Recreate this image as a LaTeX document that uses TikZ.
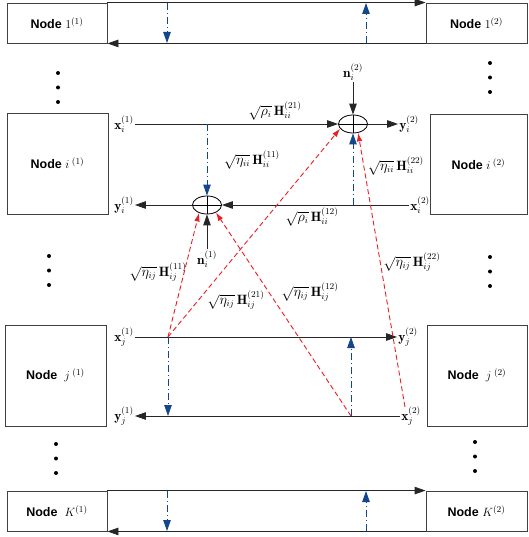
\documentclass[tikz,border=0pt]{standalone}
\usepackage{fontspec,amsmath}
\newfontfamily\nodefont{Liberation Sans}
\usetikzlibrary{arrows.meta,shapes.geometric}
\definecolor{fbblue}{RGB}{20,70,140}
\definecolor{xred}{RGB}{235,30,35}
\begin{document}
\begin{tikzpicture}[x=1pt,y=-1pt,
  box/.style={draw=black!75,line width=.9pt,inner sep=0pt,
    font=\nodefont\bfseries\fontsize{12.5}{14}\selectfont},
  lab/.style={inner sep=1pt,font=\fontsize{13.5}{15}\selectfont},
  sig/.style={-{Triangle[length=11pt,width=7.5pt]},line width=.9pt,draw=black!85},
  fb/.style={-{Triangle[length=11pt,width=7.5pt]},line width=.9pt,fbblue,
    dash pattern=on 7pt off 3pt on 1pt off 3pt},
  rd/.style={-{Latex[length=8.5pt,width=5.5pt]},line width=.9pt,xred,
    dash pattern=on 5pt off 3pt},
  sum/.style={ellipse,draw,line width=.8pt,minimum width=29pt,minimum height=18pt,
    inner sep=0pt,path picture={
      \draw[line width=.6pt] (path picture bounding box.north) -- (path picture bounding box.south)
        (path picture bounding box.west) -- (path picture bounding box.east);}}]
\useasboundingbox (0,0) rectangle (528,537);
% node 1
\node[box,minimum width=100pt,minimum height=40pt] (n11) at (57,23) {Node $1^{(1)}$};
\node[box,minimum width=101pt,minimum height=40pt] (n12) at (476.5,23) {Node $1^{(2)}$};
\draw[sig] (n11.north east) -- (n12.north west);
\draw[sig] (n12.south west) -- (n11.south east);
\coordinate (d1a) at (167,3); \coordinate (d1b) at (167,43);
\coordinate (u1a) at (366,43); \coordinate (u1b) at (366,3);
\draw[fb] (d1a) -- (d1b);
\draw[fb] (u1a) -- (u1b);
% dots
\foreach \px/\py in {58/73,490/63,49/256,490/257,56/444,475/442}{
  \foreach \k in {0,1,2}
    \fill (\px,\py+14.5*\k) circle (2pt);
}
% node i
\node[box,minimum width=101pt,minimum height=101pt] (ni1) at (57.5,163.5) {Node $i^{\;(1)}$};
\node[box,minimum width=97pt,minimum height=100pt] (ni2) at (478.5,164) {Node $i^{\;(2)}$};
\node[lab] (xi1) at (124,124) {$\mathbf{x}_i^{(1)}$};
\node[sum] (s2) at (353,124) {};
\node[lab] (yi2) at (409,124) {$\mathbf{y}_i^{(2)}$};
\node[lab] (nn2) at (353,72) {$\mathbf{n}_i^{(2)}$};
\node[lab] (xi2) at (420,205) {$\mathbf{x}_i^{(2)}$};
\node[sum] (s1) at (207,205) {};
\node[lab] (yi1) at (124,205) {$\mathbf{y}_i^{(1)}$};
\node[lab] (nn1) at (207,259) {$\mathbf{n}_i^{(1)}$};
\draw[sig] (xi1.east) -- (s2.west);
\draw[sig] (s2.east) -- (yi2.west);
\draw[sig] (nn2.south) -- (s2.north);
\draw[sig] (xi2.west) -- (s1.east);
\draw[sig] (s1.west) -- (yi1.east);
\draw[sig] (nn1.north) -- (s1.south);
\draw[fb] (s1 |- xi1) -- (s1.north);
\draw[fb] (s2 |- xi2) -- (s2.south);
\node[lab] (g21) at (275,111) {$\sqrt{\rho_i}\,\mathbf{H}_{ii}^{(21)}$};
\node[lab] (g11) at (252,160) {$\sqrt{\eta_{ii}}\,\mathbf{H}_{ii}^{(11)}$};
\node[lab] (g22) at (396,166) {$\sqrt{\eta_{ii}}\,\mathbf{H}_{ii}^{(22)}$};
\node[lab] (g12) at (312,217) {$\sqrt{\rho_i}\,\mathbf{H}_{ii}^{(12)}$};
% node j
\node[box,minimum width=101pt,minimum height=101pt] (nj1) at (55.5,375.5) {Node\ \ $j^{\;(1)}$};
\node[box,minimum width=100pt,minimum height=101pt] (nj2) at (477,375.5) {Node\ \ $j^{\;(2)}$};
\node[lab] (xj1) at (124,337) {$\mathbf{x}_j^{(1)}$};
\node[lab] (yj2) at (408,337) {$\mathbf{y}_j^{(2)}$};
\node[lab] (yj1) at (124,416) {$\mathbf{y}_j^{(1)}$};
\node[lab] (xj2) at (411,416) {$\mathbf{x}_j^{(2)}$};
\draw[sig] (xj1.east) -- (yj2.west);
\draw[sig] (xj2.west) -- (yj1.east);
\coordinate (tj1) at (168,337); \coordinate (rj1) at (168,416);
\coordinate (tj2) at (351,416); \coordinate (rj2) at (351,337);
\coordinate (tj3) at (405,407);
\draw[fb] (tj1) -- (rj1);
\draw[fb] (tj2) -- (rj2);
\draw[rd] (tj1) -- (s1.225);
\draw[rd] (tj1) -- (s2.200);
\draw[rd] (tj2) -- (s1.320);
\draw[rd] (tj3) -- (s2.300);
\node[lab] (h11) at (158,272) {$\sqrt{\eta_{ij}}\,\mathbf{H}_{ij}^{(11)}$};
\node[lab] (h21) at (236,300) {$\sqrt{\eta_{ij}}\,\mathbf{H}_{ij}^{(21)}$};
\node[lab] (h12) at (310,292) {$\sqrt{\eta_{ij}}\,\mathbf{H}_{ij}^{(12)}$};
\node[lab] (h22) at (412,262) {$\sqrt{\eta_{ij}}\,\mathbf{H}_{ij}^{(22)}$};
% node K
\node[box,minimum width=100pt,minimum height=40pt] (nk1) at (57,511) {Node\ \ $K^{(1)}$};
\node[box,minimum width=101pt,minimum height=40pt] (nk2) at (476.5,511) {Node $K^{(2)}$};
\draw[sig] (nk1.north east) -- (nk2.north west);
\draw[sig] (nk2.south west) -- (nk1.south east);
\coordinate (dka) at (167,491); \coordinate (dkb) at (167,531);
\coordinate (uka) at (366,531); \coordinate (ukb) at (366,491);
\draw[fb] (dka) -- (dkb);
\draw[fb] (uka) -- (ukb);
\end{tikzpicture}
\end{document}
